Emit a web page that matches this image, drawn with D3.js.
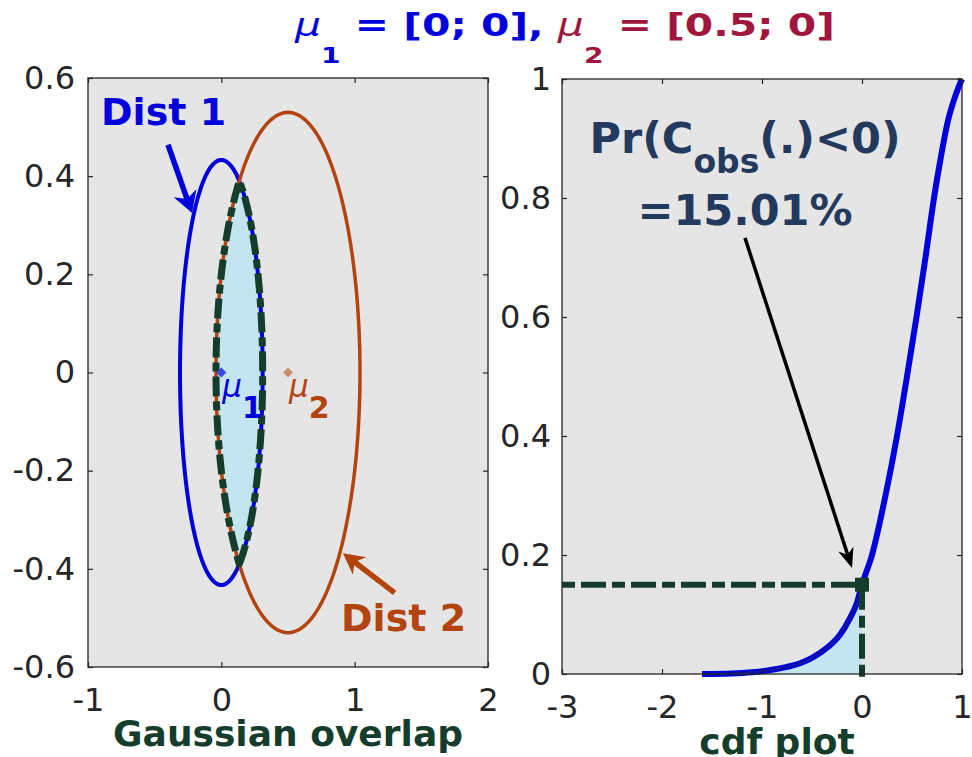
<!DOCTYPE html>
<html>
<head>
<meta charset="utf-8">
<script src="https://cdn.jsdelivr.net/npm/d3@7"></script>
<style>
  body { margin: 0; background: #fff; }
  svg { display: block; }
  text { font-family: "DejaVu Sans", sans-serif; }
</style>
</head>
<body>
<div id="chart"></div>
<script>
// --- data ---
const leftXTicks  = [-1, 0, 1, 2];
const leftYTicks  = [-0.6, -0.4, -0.2, 0, 0.2, 0.4, 0.6];
const rightXTicks = [-3, -2, -1, 0, 1];
const rightYTicks = [0, 0.2, 0.4, 0.6, 0.8, 1];

const distNames = ['Dist 1', 'Dist 2'];
const distMeans = [[0, 0], [0.5, 0]];
const distRadii = [[0.31, 0.433], [0.54, 0.53]];   // semi-axes (x, y) of the contour

// empirical cdf of C_obs
const cdfX = [-1.6, -1.3, -1.1, -0.9, -0.75, -0.62, -0.5, -0.35, -0.22, -0.12, -0.05, 0,
              0.1, 0.235, 0.35, 0.45, 0.545, 0.635, 0.72, 0.79, 0.86, 0.93, 0.97, 1.0];
const cdfY = [0, 0.001, 0.003, 0.007, 0.012, 0.018, 0.027, 0.044, 0.066, 0.094, 0.12, 0.1501,
              0.2, 0.3, 0.4, 0.5, 0.6, 0.7, 0.8, 0.87, 0.93, 0.97, 0.988, 1.0];
const probNeg = 0.1501;

// --- colours ---
const BLUE = '#0000dd', ORANGE = '#b3440d', GREEN = '#143d2b', NAVY = '#23395d';
const BG = '#e5e5e5', AXC = '#262626', FILL = '#c4e4f0', CRIMSON = '#a0163c';

const W = 972, H = 757;
const svg = d3.select('#chart').append('svg').attr('width', W).attr('height', H);

const xL = d3.scaleLinear([-1, 2], [88, 488]);
const yL = d3.scaleLinear([-0.6, 0.6], [667, 78]);
const xR = d3.scaleLinear([-3, 1], [562, 962]);
const yR = d3.scaleLinear([0, 1], [674, 79]);

function background(x, y) {
  svg.append('rect')
    .attr('x', x.range()[0]).attr('y', y.range()[1])
    .attr('width', x.range()[1] - x.range()[0])
    .attr('height', y.range()[0] - y.range()[1])
    .attr('fill', BG);
}

function axes(x, y, xt, yt, ypad) {
  const fmt = d => String(d);
  const x0 = x.range()[0], x1 = x.range()[1], yb = y.range()[0], yt0 = y.range()[1];
  const g = svg.append('g');
  g.append('g').attr('transform', `translate(0,${yb})`)
    .call(d3.axisBottom(x).tickValues(xt).tickSize(-5).tickPadding(21).tickFormat(fmt));
  g.append('g').attr('transform', `translate(0,${yt0})`)
    .call(d3.axisTop(x).tickValues(xt).tickSize(-5).tickFormat(''));
  g.append('g').attr('transform', `translate(${x0},0)`)
    .call(d3.axisLeft(y).tickValues(yt).tickSize(-5).tickPadding(ypad).tickFormat(fmt));
  g.append('g').attr('transform', `translate(${x1},0)`)
    .call(d3.axisRight(y).tickValues(yt).tickSize(-5).tickFormat(''));
  g.selectAll('.domain').remove();
  g.selectAll('.tick line').attr('stroke', AXC).attr('stroke-width', 1.2);
  g.selectAll('.tick text').attr('font-size', 32).attr('fill', AXC)
    .attr('font-family', '"DejaVu Sans", sans-serif');
  g.append('rect')
    .attr('x', x0).attr('y', yt0).attr('width', x1 - x0).attr('height', yb - yt0)
    .attr('fill', 'none').attr('stroke', AXC).attr('stroke-width', 1.3);
}

function arrow(x1, y1, x2, y2, color, lw, len, half) {
  const dx = x2 - x1, dy = y2 - y1, L = Math.hypot(dx, dy);
  const ux = dx / L, uy = dy / L, px = -uy, py = ux;
  svg.append('line')
    .attr('x1', x1).attr('y1', y1)
    .attr('x2', x2 - ux * len * 0.6).attr('y2', y2 - uy * len * 0.6)
    .attr('stroke', color).attr('stroke-width', lw);
  const bx = x2 - ux * len, by = y2 - uy * len;
  const nx = x2 - ux * len * 0.7, ny = y2 - uy * len * 0.7;
  svg.append('path')
    .attr('d', `M${x2},${y2}L${bx + px * half},${by + py * half}L${nx},${ny}L${bx - px * half},${by - py * half}Z`)
    .attr('fill', color);
}

// ================= left panel: Gaussian overlap =================
background(xL, yL);

const ellipse = (mu, r) => d3.range(0, 361, 2).map(t => {
  const a = t * Math.PI / 180;
  return [mu[0] + r[0] * Math.cos(a), mu[1] + r[1] * Math.sin(a)];
});
const lineL = d3.line().x(d => xL(d[0])).y(d => yL(d[1]));

// overlap region = inside both contours
const xRightArc = y => distMeans[0][0] + distRadii[0][0] * Math.sqrt(Math.max(0, 1 - (y / distRadii[0][1]) ** 2));
const xLeftArc  = y => distMeans[1][0] - distRadii[1][0] * Math.sqrt(Math.max(0, 1 - (y / distRadii[1][1]) ** 2));
let lo = 0, hi = Math.min(distRadii[0][1], distRadii[1][1]);
for (let i = 0; i < 60; i++) {
  const m = (lo + hi) / 2;
  if (xRightArc(m) - xLeftArc(m) > 0) lo = m; else hi = m;
}
const yi = lo;
const N = 80;
const overlap = [];
for (let i = 0; i <= N; i++) { const y = -yi + 2 * yi * i / N; overlap.push([xRightArc(y), y]); }
for (let i = 0; i <= N; i++) { const y = yi - 2 * yi * i / N; overlap.push([xLeftArc(y), y]); }

svg.append('path').attr('d', lineL(overlap) + 'Z').attr('fill', FILL);

[BLUE, ORANGE].forEach((c, i) => {
  svg.append('path')
    .attr('d', lineL(ellipse(distMeans[i], distRadii[i])) + 'Z')
    .attr('fill', 'none').attr('stroke', c).attr('stroke-width', i === 0 ? 4 : 3.5);
});

svg.append('path').attr('d', lineL(overlap) + 'Z')
  .attr('fill', 'none').attr('stroke', GREEN).attr('stroke-width', 7)
  .attr('stroke-dasharray', '20,5,9,5').attr('stroke-linejoin', 'round');

// mean markers + labels
const markerCol = ['#3a46e6', '#c8906a'];
const labelCol = [BLUE, ORANGE];
distMeans.forEach((m, i) => {
  const cx = xL(m[0]), cy = yL(m[1]);
  svg.append('path').attr('d', `M${cx},${cy - 5}L${cx + 5},${cy}L${cx},${cy + 5}L${cx - 5},${cy}Z`)
    .attr('fill', markerCol[i]);
  const t = svg.append('text').attr('x', cx + 1).attr('y', cy + 24)
    .attr('fill', labelCol[i]).attr('font-size', 31);
  t.append('tspan').attr('font-style', 'italic').text('\u03bc');
  t.append('tspan').attr('font-weight', 'bold').attr('font-size', 30).attr('dy', 21).text(String(i + 1));
});

// Dist labels and arrows
svg.append('text').attr('x', xL(-0.433)).attr('y', yL(0.504))
  .attr('text-anchor', 'middle').attr('font-size', 38).attr('font-weight', 'bold')
  .attr('fill', BLUE).text(distNames[0]);
arrow(xL(-0.40), yL(0.464), xL(-0.22), yL(0.325), BLUE, 5.5, 21, 12);

svg.append('text').attr('x', xL(1.367)).attr('y', yL(-0.527))
  .attr('text-anchor', 'middle').attr('font-size', 38).attr('font-weight', 'bold')
  .attr('fill', ORANGE).text(distNames[1]);
arrow(xL(1.30), yL(-0.449), xL(0.912), yL(-0.368), ORANGE, 5.5, 21, 11);

axes(xL, yL, leftXTicks, leftYTicks, 13);

svg.append('text').attr('x', (xL.range()[0] + xL.range()[1]) / 2).attr('y', 746)
  .attr('text-anchor', 'middle').attr('font-size', 36).attr('font-weight', 'bold')
  .attr('fill', GREEN).text('Gaussian overlap');

// ================= right panel: cdf =================
background(xR, yR);

const pts = cdfX.map((x, i) => [x, cdfY[i]]);
const negPts = pts.filter(d => d[0] <= 0);

svg.append('path')
  .attr('d', d3.area().x(d => xR(d[0])).y0(yR(0)).y1(d => yR(d[1])).curve(d3.curveMonotoneX)(negPts))
  .attr('fill', FILL);

const lineR = d3.line().x(d => xR(d[0])).y(d => yR(d[1])).curve(d3.curveMonotoneX);
svg.append('path').attr('d', lineR(pts))
  .attr('fill', 'none').attr('stroke', BLUE).attr('stroke-width', 6);
svg.append('path').attr('d', lineR(negPts))
  .attr('fill', 'none').attr('stroke', '#1c1c80').attr('stroke-width', 1.8).attr('opacity', 0.8);

// dash-dot guides
svg.append('line')
  .attr('x1', xR(-3)).attr('y1', yR(probNeg)).attr('x2', xR(0)).attr('y2', yR(probNeg))
  .attr('stroke', GREEN).attr('stroke-width', 6).attr('stroke-dasharray', '13,6,25,6');
svg.append('line')
  .attr('x1', xR(0)).attr('y1', yR(probNeg)).attr('x2', xR(0)).attr('y2', yR(-0.008))
  .attr('stroke', GREEN).attr('stroke-width', 6).attr('stroke-dasharray', '25,6,12,6');
svg.append('rect')
  .attr('x', xR(0) - 7).attr('y', yR(probNeg) - 7).attr('width', 14).attr('height', 14)
  .attr('fill', GREEN);

// annotation
const ann = svg.append('text').attr('x', xR(-1.17)).attr('y', yR(0.876))
  .attr('text-anchor', 'middle').attr('font-size', 43).attr('font-weight', 'bold').attr('fill', NAVY);
ann.append('tspan').text('Pr(C');
ann.append('tspan').attr('font-size', 33).attr('dy', 20).text('obs');
ann.append('tspan').attr('dy', -20).text('(.)<0)');
svg.append('text').attr('x', xR(-1.17)).attr('y', yR(0.755))
  .attr('text-anchor', 'middle').attr('font-size', 43).attr('font-weight', 'bold').attr('fill', NAVY)
  .text('=' + (probNeg * 100).toFixed(2) + '%');
arrow(xR(-1.17), yR(0.733), xR(-0.10), yR(0.178), '#000', 3.5, 20, 8);

axes(xR, yR, rightXTicks, rightYTicks, 11);

svg.append('text').attr('x', 777).attr('y', 754)
  .attr('text-anchor', 'middle').attr('font-size', 36).attr('font-weight', 'bold')
  .attr('fill', GREEN).text('cdf plot');

// ================= title =================
const title = svg.append('text').attr('x', 0).attr('y', 36).attr('font-size', 32);
function titlePart(sub, rest, color) {
  title.append('tspan').attr('fill', color).attr('font-style', 'italic').text('\u03bc');
  title.append('tspan').attr('fill', color).attr('font-weight', 'bold').attr('font-size', 22)
    .attr('dy', 27).text(sub);
  title.append('tspan').attr('fill', color).attr('font-weight', 'bold').attr('dy', -27).text(rest);
}
titlePart('1', ' = [0; 0], ', BLUE);
titlePart('2', ' = [0.5; 0]', CRIMSON);
const tw = title.node().getComputedTextLength();
title.attr('transform', `translate(295,0) scale(${540 / tw},1)`);
</script>
</body>
</html>
